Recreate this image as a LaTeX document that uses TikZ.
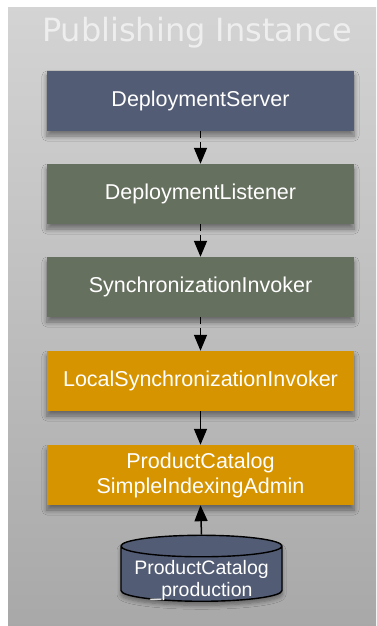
\documentclass[tikz,border=0pt]{standalone}
\usepackage{fontspec}
\setmainfont{Liberation Sans}
\newfontfamily\titlefont{DejaVu Sans}
\usetikzlibrary{arrows.meta,shapes.geometric,shadows.blur}
\definecolor{bluegray}{HTML}{525C74}
\definecolor{greengray}{HTML}{66705F}
\definecolor{amber}{HTML}{D69400}
\definecolor{titlegray}{HTML}{EEEEEE}
\tikzset{
  compbox/.style={rectangle, minimum width=307bp, minimum height=60bp, inner sep=0pt,
    text=white, align=center, font=\fontsize{21.5bp}{25bp}\selectfont,
    blur shadow={shadow xshift=0bp, shadow yshift=-5bp, shadow blur steps=6, shadow blur radius=5bp, shadow opacity=45}},
  conn/.style={draw=black, line width=1.5bp, -{Triangle[width=13bp,length=16bp]}},
  dconn/.style={conn, dash pattern=on 7bp off 4bp},
  dbshape/.style={cylinder, shape border rotate=90, aspect=0.16, draw=black, line width=1.4bp,
    fill=bluegray, minimum width=161bp, minimum height=66bp, inner sep=0pt,
    font=\fontsize{19.5bp}{22bp}\selectfont,
    blur shadow={shadow xshift=0bp, shadow yshift=-4bp, shadow blur steps=6, shadow blur radius=4bp, shadow opacity=40}},
  dbtext/.style={text=white, align=center, font=\fontsize{19.5bp}{22bp}\selectfont, inner sep=0pt}
}
\begin{document}
\begin{tikzpicture}[x=1bp,y=-1bp]
\useasboundingbox (0,0) rectangle (376,626);
\fill[white] (0,0) rectangle (376,626);
\shade[top color=black!17, bottom color=black!34] (8,8) rectangle (376,626);
\node[text=titlegray, font=\titlefont\fontsize{32bp}{34bp}\selectfont, anchor=center] (title) at (197,33) {Publishing Instance};
\node[compbox, fill=bluegray] (ds) at (200.5,101) {DeploymentServer};
\node[compbox, fill=greengray] (dl) at (200.5,194) {DeploymentListener};
\node[compbox, fill=greengray] (si) at (200.5,287) {SynchronizationInvoker};
\node[compbox, fill=amber] (lsi) at (200.5,381) {LocalSynchronizationInvoker};
\node[compbox, fill=amber] (pc) at (200.5,475) {ProductCatalog\\SimpleIndexingAdmin};
\node[dbshape] (db) at (201.5,574) {\phantom{ProductCatalog}};
\node[dbtext] (dblabel) at (201.5,580) {ProductCatalog\\\_production};
\draw[dconn] (ds.south) -- (dl.north);
\draw[dconn] (dl.south) -- (si.north);
\draw[dconn] (si.south) -- (lsi.north);
\draw[conn] (lsi.south) -- (pc.north);
\draw[conn] (db.north) -- (pc.south);
\end{tikzpicture}
\end{document}
